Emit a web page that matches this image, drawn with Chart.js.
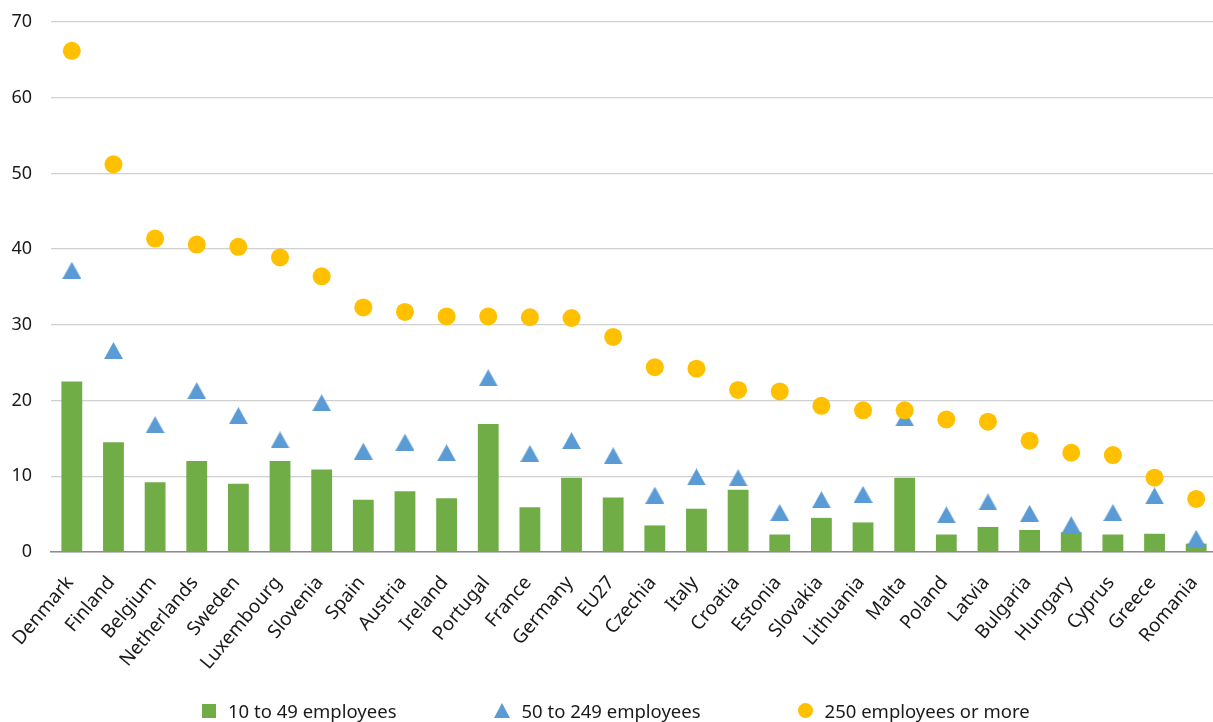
<!DOCTYPE html>
<html>
<head>
<meta charset="utf-8">
<script src="https://cdn.jsdelivr.net/npm/chart.js@4/dist/chart.umd.min.js"></script>
<style>
  html, body { margin: 0; padding: 0; background: #ffffff; overflow: hidden; }
  #wrap { position: relative; width: 1217px; height: 722px; }
  #legend {
    position: absolute; left: 202px; top: 698px;
    display: flex; align-items: center; gap: 97px;
    font-family: 'Noto Sans', sans-serif; font-size: 18.5px; color: #1a1a1a;
    white-space: nowrap;
  }
  .legend-item { display: flex; align-items: center; }
  .legend-item canvas { margin-right: 12px; }
</style>
</head>
<body>
<div id="wrap">
  <canvas id="chart" width="1217" height="722"></canvas>
  <div id="legend"></div>
</div>
<script>
// Countries ordered by the share of large enterprises
const countries = ['Denmark', 'Finland', 'Belgium', 'Netherlands', 'Sweden', 'Luxembourg', 'Slovenia',
    'Spain', 'Austria', 'Ireland', 'Portugal', 'France', 'Germany', 'EU27', 'Czechia', 'Italy',
    'Croatia', 'Estonia', 'Slovakia', 'Lithuania', 'Malta', 'Poland', 'Latvia', 'Bulgaria',
    'Hungary', 'Cyprus', 'Greece', 'Romania'];

const small = [22.5, 14.5, 9.2, 12.0, 9.0, 12.0, 10.9, 6.9, 8.0, 7.1, 16.9, 5.9, 9.8, 7.2,
    3.5, 5.7, 8.2, 2.3, 4.5, 3.9, 9.8, 2.3, 3.3, 2.9, 2.6, 2.3, 2.4, 1.1];

const medium = [37.2, 26.6, 16.8, 21.3, 18.0, 14.8, 19.7, 13.3, 14.5, 13.1, 23.0, 13.0, 14.7, 12.7,
    7.5, 9.9, 9.8, 5.2, 6.9, 7.6, 17.7, 4.9, 6.6, 5.1, 3.6, 5.2, 7.4, 1.8];

const large = [66.2, 51.2, 41.4, 40.6, 40.3, 38.9, 36.4, 32.3, 31.7, 31.1, 31.1, 31.0, 30.9, 28.4,
    24.4, 24.2, 21.4, 21.2, 19.3, 18.7, 18.7, 17.5, 17.2, 14.7, 13.1, 12.8, 9.8, 7.0];

const seriesNames = ['10 to 49 employees', '50 to 249 employees', '250 employees or more'];
const yTicks = [0, 10, 20, 30, 40, 50, 60, 70];

const COLORS = {
    green: '#70AD47',
    blue: '#5B9BD5',
    gold: '#FFC000'
};

const FONT = "'Noto Sans', sans-serif";

// small canvas markers, centred on their bounding box
function triangleMarker(w, h, color) {
    const c = document.createElement('canvas');
    c.width = w; c.height = h;
    const g = c.getContext('2d');
    g.fillStyle = color;
    g.beginPath();
    g.moveTo(w / 2, 0);
    g.lineTo(w, h);
    g.lineTo(0, h);
    g.closePath();
    g.fill();
    return c;
}

function squareMarker(s, color) {
    const c = document.createElement('canvas');
    c.width = s; c.height = s;
    const g = c.getContext('2d');
    g.fillStyle = color;
    g.fillRect(0, 0, s, s);
    return c;
}

function circleMarker(d, color) {
    const c = document.createElement('canvas');
    c.width = d; c.height = d;
    const g = c.getContext('2d');
    g.fillStyle = color;
    g.beginPath();
    g.arc(d / 2, d / 2, d / 2, 0, Math.PI * 2);
    g.fill();
    return c;
}

const triPoint = triangleMarker(19, 17, COLORS.blue);

const ctx = document.getElementById('chart').getContext('2d');

new Chart(ctx, {
    data: {
        labels: countries,
        datasets: [
            {
                type: 'bar',
                label: seriesNames[0],
                data: small,
                backgroundColor: COLORS.green,
                categoryPercentage: 1.0,
                barPercentage: 0.5,
                order: 2
            },
            {
                type: 'line',
                label: seriesNames[1],
                data: medium,
                showLine: false,
                pointStyle: triPoint,
                pointRadius: 10,
                order: 1
            },
            {
                type: 'line',
                label: seriesNames[2],
                data: large,
                showLine: false,
                pointStyle: 'circle',
                pointRadius: 9,
                pointBorderWidth: 0,
                pointBackgroundColor: COLORS.gold,
                borderColor: COLORS.gold,
                order: 0
            }
        ]
    },
    options: {
        responsive: false,
        animation: false,
        layout: {
            autoPadding: false,
            padding: { left: 11, right: 0, top: 22, bottom: 28 }
        },
        plugins: {
            legend: { display: false },  // legenda em HTML
            tooltip: { enabled: false }
        },
        scales: {
            x: {
                offset: true,
                grid: { display: false, drawTicks: false },
                border: { color: '#8c8c8c', width: 1.5 },
                ticks: {
                    color: '#1a1a1a',
                    font: { family: FONT, size: 19 },
                    maxRotation: 50,
                    minRotation: 50,
                    autoSkip: false,
                    padding: 20,
                    labelOffset: -2
                },
                afterFit: function(scale) {
                    // rotated labels fit inside the y axis area
                    scale.paddingLeft = 0;
                    scale.paddingRight = 0;
                }
            },
            y: {
                min: 0,
                max: 70,
                afterBuildTicks: function(axis) {
                    axis.ticks = yTicks.map(v => ({ value: v }));
                },
                afterFit: function(scale) {
                    scale.width = 40;
                    scale.paddingTop = 0;
                    scale.paddingBottom = 0;
                },
                grid: {
                    color: '#d0d0d0',
                    lineWidth: 1.3,
                    drawTicks: false
                },
                border: { display: false },
                ticks: {
                    color: '#1a1a1a',
                    font: { family: FONT, size: 18 },
                    padding: 19
                }
            }
        }
    }
});

// legenda HTML
const legendMarks = [
    squareMarker(14, COLORS.green),
    triangleMarker(16, 15, COLORS.blue),
    circleMarker(15, COLORS.gold)
];
const legend = document.getElementById('legend');
seriesNames.forEach((name, i) => {
    const item = document.createElement('div');
    item.className = 'legend-item';
    item.appendChild(legendMarks[i]);
    const label = document.createElement('span');
    label.textContent = name;
    item.appendChild(label);
    legend.appendChild(item);
});
</script>
</body>
</html>
